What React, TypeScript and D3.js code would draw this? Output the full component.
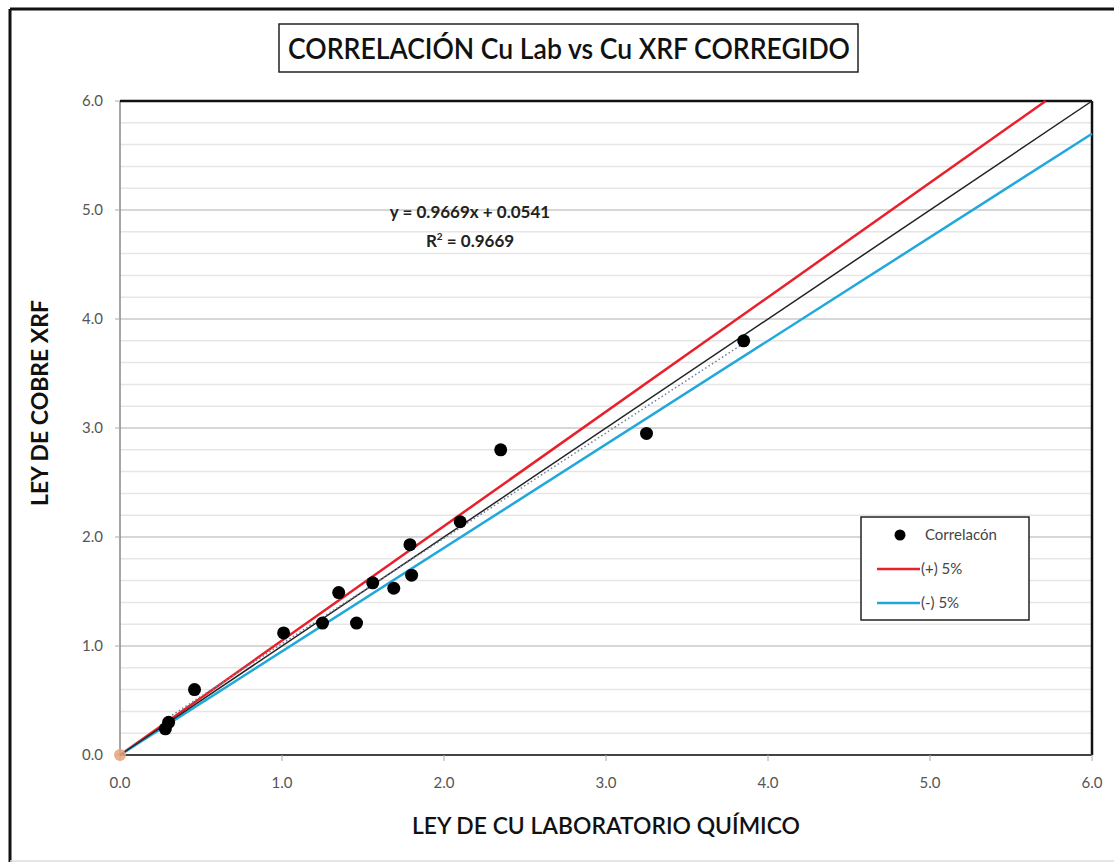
import React from "react";
import * as d3 from "d3";

const labX: number[] = [0.28, 0.30, 0.46, 1.01, 1.25, 1.35, 1.46, 1.56, 1.69, 1.79, 1.80, 2.10, 2.35, 3.25, 3.85];
const xrfY: number[] = [0.24, 0.30, 0.60, 1.12, 1.21, 1.49, 1.21, 1.58, 1.53, 1.93, 1.65, 2.14, 2.80, 2.95, 3.80];
const originPoint: [number, number] = [0, 0];
const tickValues: number[] = [0, 1, 2, 3, 4, 5, 6];
const minorValues: number[] = d3.range(0, 6.01, 0.2);
const plusFactor = 1.05;
const minusFactor = 0.95;
const slope = 0.9669;
const intercept = 0.0541;
const titleText = "CORRELACIÓN Cu Lab vs Cu XRF CORREGIDO";
const xTitle = "LEY DE CU LABORATORIO QUÍMICO";
const yTitle = "LEY DE COBRE XRF";
const eqText = "y = 0.9669x + 0.0541";
const r2Value = "0.9669";
const legendLabels = ["Correlacón", "(+) 5%", "(-) 5%"];

const W = 1114, H = 864;
const L = 120, R = 1092, T = 101, B = 755;
const font = "Lato, 'Open Sans', sans-serif";

export default function App() {
  const x = d3.scaleLinear().domain([0, 6]).range([L, R]);
  const y = d3.scaleLinear().domain([0, 6]).range([B, T]);
  const line = d3.line<[number, number]>().x(d => x(d[0])).y(d => y(d[1]));
  const xmax = 6;
  const plusEnd = 6 / plusFactor;
  const plusPts: [number, number][] = [[0, 0], [plusEnd, plusEnd * plusFactor]];
  const minusPts: [number, number][] = [[0, 0], [xmax, xmax * minusFactor]];
  const idPts: [number, number][] = [[0, 0], [6, 6]];
  const xMin = d3.min(labX) as number;
  const xMaxD = d3.max(labX) as number;
  const trendPts: [number, number][] = [[xMin, slope * xMin + intercept], [xMaxD, slope * xMaxD + intercept]];

  return (
    <svg width={W} height={H} style={{ position: "absolute", left: 0, top: 0, background: "#fff" }}>
      {/* outer frame */}
      <line x1={10} y1={9} x2={W} y2={9} stroke="#111" strokeWidth={3} />
      <line x1={10} y1={9} x2={10} y2={862} stroke="#111" strokeWidth={3} />
      <line x1={10} y1={861} x2={W} y2={861} stroke="#ddd" strokeWidth={1.5} />

      {/* title */}
      <rect x={279} y={24} width={579} height={48} fill="#fff" stroke="#222" strokeWidth={1.5} />
      <text x={569} y={59} textAnchor="middle" fontFamily={font} fontSize={28} fontWeight={600} fill="#111"
        textLength={562} lengthAdjust="spacingAndGlyphs">{titleText}</text>

      {/* minor grid */}
      {minorValues.map((v, i) => (
        <line key={"m" + i} x1={L} x2={R} y1={y(v)} y2={y(v)} stroke="#e6e6e6" strokeWidth={1.5} />
      ))}
      {tickValues.map((v, i) => (
        <line key={"g" + i} x1={L} x2={R} y1={y(v)} y2={y(v)} stroke="#d0d0d0" strokeWidth={1.5} />
      ))}

      {/* axes */}
      <line x1={L} y1={T} x2={L} y2={B} stroke="#888" strokeWidth={1.5} />
      <line x1={L} y1={T} x2={R} y2={T} stroke="#111" strokeWidth={2.5} />
      <line x1={R} y1={T} x2={R} y2={B} stroke="#111" strokeWidth={2.5} />
      <line x1={L} y1={B} x2={R} y2={B} stroke="#444" strokeWidth={2} />
      {tickValues.map((v, i) => (
        <g key={"xt" + i}>
          <line x1={x(v)} x2={x(v)} y1={B} y2={B + 6} stroke="#aaa" strokeWidth={1} />
          <text x={x(v)} y={B + 33} textAnchor="middle" fontFamily={font} fontSize={15} fill="#555">{d3.format(".1f")(v)}</text>
        </g>
      ))}
      {tickValues.map((v, i) => (
        <g key={"yt" + i}>
          <line x1={L - 5} x2={L} y1={y(v)} y2={y(v)} stroke="#aaa" strokeWidth={1} />
          <text x={L - 17} y={y(v) + 5} textAnchor="end" fontFamily={font} fontSize={15} fill="#555">{d3.format(".1f")(v)}</text>
        </g>
      ))}

      {/* lines */}
      <path d={line(plusPts) || ""} stroke="#e8202a" strokeWidth={2.5} fill="none" />
      <path d={line(minusPts) || ""} stroke="#20a8dc" strokeWidth={2.5} fill="none" />
      <path d={line(idPts) || ""} stroke="#222" strokeWidth={1.5} fill="none" />
      <path d={line(trendPts) || ""} stroke="#6f7f9a" strokeWidth={1.5} strokeDasharray="1.5,2.5" fill="none" />

      {/* points */}
      {labX.map((v, i) => (
        <circle key={"p" + i} cx={x(v)} cy={y(xrfY[i])} r={6.5} fill="#000" />
      ))}
      <circle cx={x(originPoint[0])} cy={y(originPoint[1])} r={6} fill="#e8a47c" opacity={0.85} />

      {/* equation */}
      <text x={470} y={218} textAnchor="middle" fontFamily={font} fontSize={17} fontWeight={700} fill="#222">{eqText}</text>
      <text x={470} y={247} textAnchor="middle" fontFamily={font} fontSize={17} fontWeight={700} fill="#222">
        R<tspan dy={-7} fontSize={10}>2</tspan><tspan dy={7}> = {r2Value}</tspan>
      </text>

      {/* axis titles */}
      <text x={606} y={834} textAnchor="middle" fontFamily={font} fontSize={22} fontWeight={600} fill="#111"
        textLength={388} lengthAdjust="spacingAndGlyphs">{xTitle}</text>
      <text transform={`translate(48,403) rotate(-90)`} textAnchor="middle" fontFamily={font} fontSize={22} fontWeight={700} fill="#111"
        textLength={206} lengthAdjust="spacingAndGlyphs">{yTitle}</text>

      {/* legend */}
      <rect x={861} y={517} width={168} height={103} fill="#fff" stroke="#222" strokeWidth={1.5} />
      <circle cx={900} cy={535} r={5.5} fill="#000" />
      <text x={925} y={540} fontFamily={font} fontSize={15} fill="#444">{legendLabels[0]}</text>
      <line x1={877} x2={920} y1={569} y2={569} stroke="#e8202a" strokeWidth={2.5} />
      <text x={921} y={574} fontFamily={font} fontSize={15} fill="#444">{legendLabels[1]}</text>
      <line x1={877} x2={920} y1={603} y2={603} stroke="#20a8dc" strokeWidth={2.5} />
      <text x={921} y={608} fontFamily={font} fontSize={15} fill="#444">{legendLabels[2]}</text>
    </svg>
  );
}
